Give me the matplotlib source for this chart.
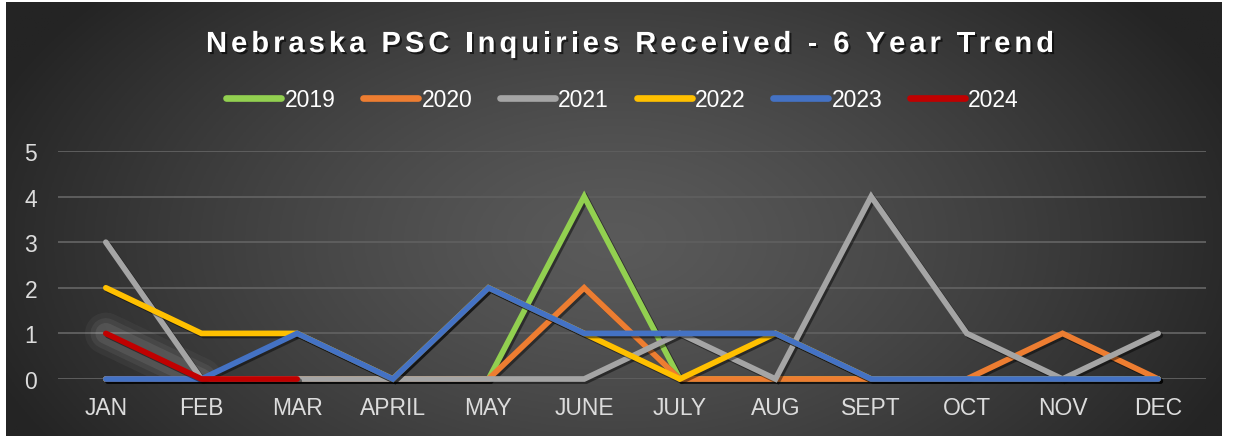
import numpy as np
import matplotlib
matplotlib.use("Agg")
from matplotlib import pyplot as plt
from matplotlib import patheffects as pe
from matplotlib import font_manager
from matplotlib.ft2font import FT2Font
from matplotlib.lines import Line2D

months = ["JAN", "FEB", "MAR", "APRIL", "MAY", "JUNE", "JULY", "AUG", "SEPT", "OCT", "NOV", "DEC"]
y2019 = [0, 0, 0, 0, 0, 4, 0, 0, 0, 0, 0, 0]
y2020 = [0, 0, 0, 0, 0, 2, 0, 0, 0, 0, 1, 0]
y2021 = [3, 0, 0, 0, 0, 0, 1, 0, 4, 1, 0, 1]
y2022 = [2, 1, 1, 0, 2, 1, 0, 1, 0, 0, 0, 0]
y2023 = [0, 0, 1, 0, 2, 1, 1, 1, 0, 0, 0, 0]
y2024 = [1, 0, 0]

years = ["2019", "2020", "2021", "2022", "2023", "2024"]
colors = ["#92d050", "#ed7d31", "#a5a5a5", "#ffc000", "#4472c4", "#c00000"]
series = [y2019, y2020, y2021, y2022, y2023, y2024]
title = "Nebraska PSC Inquiries Received - 6 Year Trend"

W, H = 1233, 439
fig = plt.figure(figsize=(W / 100, H / 100), dpi=100)
fig.patch.set_facecolor("white")

# dark panel with radial gradient
bg = fig.add_axes([6 / W, 2 / H, 1216 / W, 434 / H], zorder=-5)
gx, gy = np.meshgrid(np.linspace(0, 1, 400), np.linspace(0, 1, 200))
r = np.sqrt(((gx - 0.5) / 0.55) ** 2 + ((gy - 0.55) / 0.9) ** 2)
v = 0x5a - (0x5a - 0x24) * np.clip(r, 0, 1) ** 1.3
img = np.dstack([v, v, v]) / 255.0
bg.imshow(img, aspect="auto", extent=[0, 1, 0, 1], origin="upper")
bg.axis("off")

ax = fig.add_axes([58 / W, 59 / H, 1148 / W, 228 / H])
ax.set_facecolor("none")
ax.set_xlim(-0.5, 11.5)
ax.set_ylim(0, 5)
ax.set_yticks(range(6))
ax.set_xticks(range(12))
ax.set_xticklabels(months)
ax.tick_params(length=0, colors="#dcdcdc", labelsize=16.5)
ax.tick_params(axis="x", pad=12.5)
ax.tick_params(axis="y", pad=15)
for lab in ax.get_xticklabels() + ax.get_yticklabels():
    lab.set_family(["Liberation Sans", "DejaVu Sans"])
for s in ax.spines.values():
    s.set_visible(False)
ax.set_axisbelow(True)
ax.grid(axis="y", color="#5e5e5e", lw=1.4)

# faint glow on the start of 2024
x24 = np.arange(len(y2024))
for w, a in [(30, 0.04), (22, 0.06), (15, 0.08)]:
    ax.plot(x24[:2], y2024[:2], color="white", lw=w, alpha=a, solid_capstyle="round", zorder=2)

shadow = [pe.SimpleLineShadow(offset=(1.5, -1.5), shadow_color="black", alpha=0.45), pe.Normal()]
for name, col, vals in zip(years, colors, series):
    ax.plot(np.arange(len(vals)), vals, color=col, lw=4.1, solid_capstyle="round",
            solid_joinstyle="miter", clip_on=False, path_effects=shadow, zorder=3)

# title with letter spacing, drawn char by char
tsize = 21
fpath = font_manager.findfont(font_manager.FontProperties(family="Liberation Sans", weight="bold"))
ft = FT2Font(fpath)
ft.set_size(tsize, 100)
adv = [ft.load_char(ord(c)).linearHoriAdvance / 65536 for c in title]
x0, x1 = 206, 1054
sp = (x1 - x0 - sum(adv)) / (len(title) - 1)
tx = x0
for c, a in zip(title, adv):
    if c != " ":
        fig.text(tx / W, (H - 53) / H, c, ha="left", va="baseline", color="white",
                 fontsize=tsize, fontweight="bold", family=["Liberation Sans", "DejaVu Sans"],
                 path_effects=[pe.SimplePatchShadow(offset=(1.5, -1.5), shadow_rgbFace="black", alpha=0.6),
                               pe.Normal()])
    tx += a + sp

handles = [Line2D([0], [0], color=c, lw=4.8, solid_capstyle="round") for c in colors]
leg = fig.legend(handles, years, loc="center", bbox_to_anchor=(0.505, 0.772), ncol=6, frameon=False,
                 handlelength=2.4, handletextpad=0.15, columnspacing=1.2,
                 prop={"family": ["Liberation Sans", "DejaVu Sans"], "size": 16.5})
for t in leg.get_texts():
    t.set_color("white")

plt.savefig("out.png", dpi=100)
